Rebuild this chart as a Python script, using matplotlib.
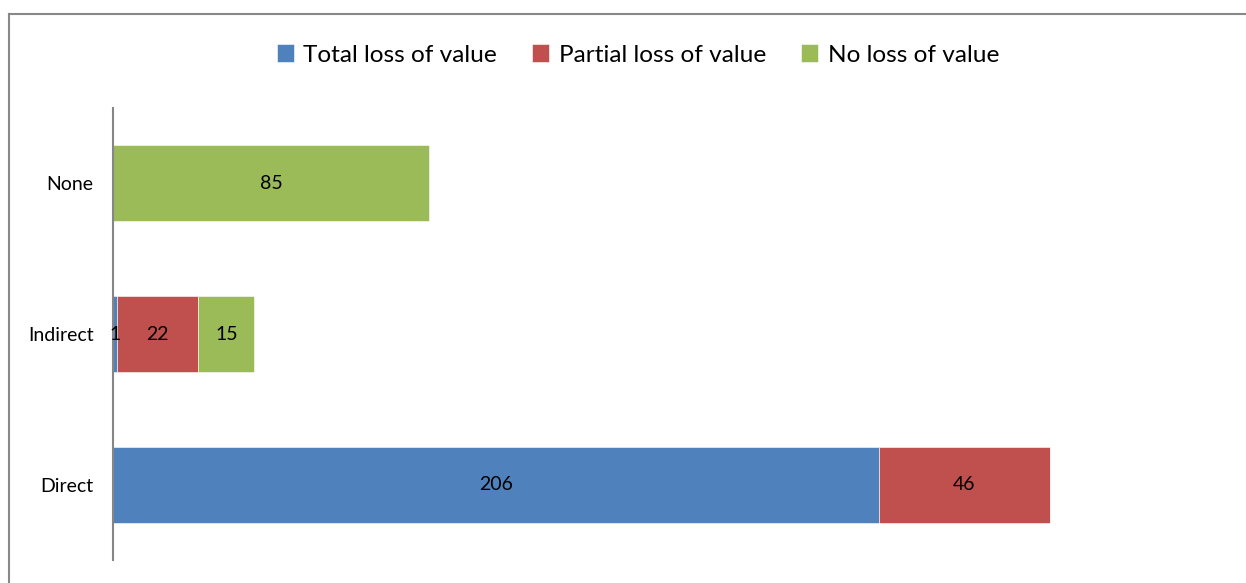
import matplotlib.pyplot as plt
import numpy as np
from matplotlib.lines import Line2D

categories = ['Direct', 'Indirect', 'None']
total_loss = [206, 1, 0]
partial_loss = [46, 22, 0]
no_loss = [0, 15, 85]
series_names = ['Total loss of value', 'Partial loss of value', 'No loss of value']
colors = ['#4F81BD', '#C0504D', '#9BBB59']

plt.rcParams['font.family'] = ['Lato', 'DejaVu Sans']

W, H = 1246, 583
fig = plt.figure(figsize=(W / 100, H / 100), dpi=100)
fig.patch.set_facecolor('white')

# plot area in pixels: axis line at x=113, from y=108 down to y=560
ax = fig.add_axes([113 / W, (H - 560) / H, 1115 / W, 452 / H])

y = np.arange(len(categories))
left = np.zeros(len(categories))
handles = []
for vals, name, c in zip([total_loss, partial_loss, no_loss], series_names, colors):
    vals = np.array(vals, dtype=float)
    bars = ax.barh(y, vals, left=left, height=0.505, color=c, edgecolor='white',
                   linewidth=0.4, label=name)
    handles.append(bars)
    for b, v in zip(bars, vals):
        if v > 0:
            ax.text(b.get_x() + b.get_width() / 2, b.get_y() + b.get_height() / 2,
                    '%d' % v, ha='center', va='center', fontsize=14, color='black')
    left += vals

ax.set_xlim(0, 300)
ax.set_ylim(-0.5, 2.5)
ax.set_yticks(y)
ax.set_yticklabels(categories, fontsize=14)
ax.tick_params(axis='y', length=0, pad=14)
ax.set_xticks([])
for s in ['top', 'right', 'bottom']:
    ax.spines[s].set_visible(False)
ax.spines['left'].set_color('#868686')
ax.spines['left'].set_linewidth(1.5)

leg = fig.legend(handles=handles, loc='center', bbox_to_anchor=(638 / W, 1 - 55 / H),
                 ncol=3, frameon=False, fontsize=17.6, handlelength=0.7, handleheight=0.7,
                 handletextpad=0.4, columnspacing=1.42)

# chart frame
fig.add_artist(Line2D([9 / W, 1.0], [1 - 14 / H, 1 - 14 / H], color='#888888', lw=1.5))
fig.add_artist(Line2D([9 / W, 9 / W], [0, 1 - 14 / H], color='#888888', lw=1.5))

fig.savefig('out.png', dpi=100, facecolor='white')
